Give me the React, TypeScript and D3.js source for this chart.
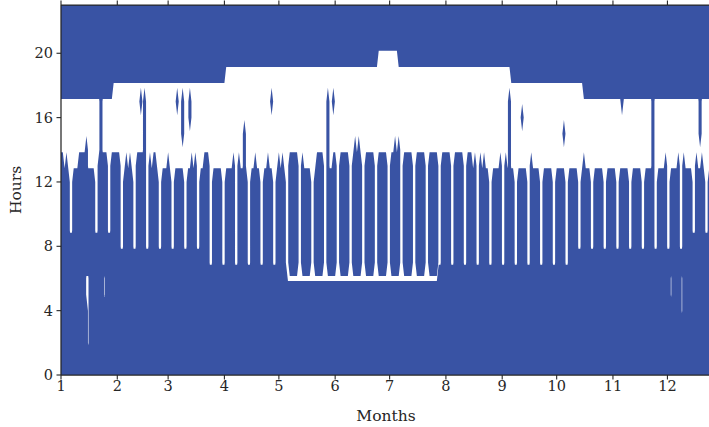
import React from 'react';
import * as d3 from 'd3';

// month ticks (day of year where each month starts)
const monthLabels = ['1', '2', '3', '4', '5', '6', '7', '8', '9', '10', '11', '12'];
const monthStartDays = [0, 31, 59, 90, 120, 151, 181, 212, 243, 273, 304, 334];
const hourTicks = [0, 4, 8, 12, 16, 20];

// last morning hour that is "on", one row per week (Mon..Fri, Sat, Sun)
const weeklyMorningEnd: number[][] = [
  [13, 13, 12, 13, 12, 8, 8],
  [12, 12, 12, 13, 13, 13, 13],
  [14, 12, 12, 12, 12, 8, 8],
  [13, 13, 13, 13, 13, 8, 8],
  [13, 13, 13, 13, 13, 7, 7],
  [12, 13, 12, 13, 12, 7, 7],
  [13, 13, 13, 13, 13, 7, 7],
  [13, 12, 13, 13, 12, 7, 7],
  [12, 12, 12, 13, 12, 7, 7],
  [12, 12, 12, 12, 12, 7, 7],
  [12, 12, 13, 12, 13, 7, 7],
  [12, 12, 13, 13, 13, 6, 6],
  [12, 12, 12, 12, 12, 6, 6],
  [12, 12, 12, 12, 13, 6, 6],
  [13, 12, 12, 13, 12, 6, 6],
  [12, 12, 13, 12, 12, 6, 6],
  [12, 12, 13, 12, 12, 6, 6],
  [12, 13, 12, 13, 12, 6, 5],
  [13, 13, 13, 13, 13, 5, 5],
  [13, 12, 12, 12, 12, 5, 5],
  [12, 13, 13, 13, 13, 5, 5],
  [13, 12, 12, 13, 13, 5, 5],
  [13, 13, 13, 13, 13, 5, 5],
  [13, 14, 13, 14, 13, 5, 5],
  [13, 13, 13, 13, 13, 5, 5],
  [13, 13, 13, 13, 13, 5, 5],
  [13, 13, 14, 13, 14, 5, 5],
  [13, 13, 13, 13, 13, 5, 5],
  [13, 13, 13, 13, 13, 5, 5],
  [13, 13, 13, 13, 13, 6, 6],
  [13, 13, 13, 13, 13, 6, 6],
  [13, 13, 13, 13, 13, 6, 6],
  [13, 13, 13, 12, 13, 6, 6],
  [13, 12, 13, 12, 12, 6, 6],
  [12, 12, 12, 12, 13, 6, 6],
  [13, 12, 13, 12, 12, 6, 6],
  [12, 12, 12, 12, 12, 6, 6],
  [13, 12, 12, 12, 12, 6, 6],
  [12, 12, 12, 12, 12, 6, 6],
  [12, 12, 12, 12, 12, 6, 6],
  [12, 12, 12, 12, 12, 7, 7],
  [12, 13, 12, 12, 12, 7, 7],
  [12, 12, 12, 12, 12, 7, 7],
  [12, 12, 12, 12, 12, 7, 7],
  [12, 12, 12, 12, 12, 7, 7],
  [12, 12, 12, 12, 12, 7, 7],
  [12, 12, 12, 12, 12, 7, 7],
  [12, 12, 12, 12, 13, 7, 7],
  [12, 12, 12, 12, 13, 7, 7],
  [13, 12, 12, 12, 12, 8, 8],
  [13, 12, 12, 13, 12, 8, 8],
  [12, 12, 12, 12, 12, 8, 8],
  [12],
];

// first "on" evening hour, piecewise by day
const eveningFromDay = [0, 29, 91, 175, 186, 248, 288];
const eveningHour = [18, 19, 20, 21, 20, 19, 18];

// summer: hour 6 off every day
const summerDays = [125, 207];
const summerOffHour = 6;

// [day, fromHour, toHour]
const extraOn: number[][] = [
  [22, 14, 17], [44, 17, 17], [46, 14, 17], [64, 17, 17], [67, 15, 17], [71, 16, 17],
  [101, 14, 15], [116, 17, 17], [147, 14, 17], [150, 17, 17], [247, 14, 17],
  [254, 16, 16], [277, 15, 15], [309, 17, 17], [326, 13, 17], [352, 15, 17],
];
const extraOff: number[][] = [
  [14, 5, 6], [15, 2, 6], [24, 5, 6], [336, 5, 6], [342, 4, 6],
];

const W = 709;
const H = 427;
const nDays = 365;
const nHours = 24;
const level = 0.15;
const blue = '#3953a4';
const ink = '#262626';

const x = d3.scaleLinear().domain([0, 358]).range([61, 711]);
const y = d3.scaleLinear().domain([0, 23]).range([375, 5]);

function buildGrid() {
  const morning = weeklyMorningEnd.flat();
  const values = new Array(nDays * nHours).fill(0);
  for (let d = 0; d < nDays; d++) {
    const seg = d3.bisectRight(eveningFromDay, d) - 1;
    const es = eveningHour[seg];
    for (let h = 0; h < nHours; h++) {
      let v = h <= morning[d] || h >= es ? 1 : 0;
      if (d >= summerDays[0] && d <= summerDays[1] && h === summerOffHour) v = 0;
      values[h * nDays + d] = v;
    }
  }
  extraOn.forEach(([d, a, b]) => { for (let h = a; h <= b; h++) values[h * nDays + d] = 1; });
  extraOff.forEach(([d, a, b]) => { for (let h = a; h <= b; h++) values[h * nDays + d] = 0; });
  return values;
}

export default function App() {
  const values = buildGrid();
  const contours = d3.contours().size([nDays, nHours]).thresholds([level])(values);
  const proj = d3.geoTransform({
    point(px: number, py: number) {
      (this as any).stream.point(x(px - 0.5), y(py - 0.5));
    },
  });
  const path = d3.geoPath(proj);
  const x0 = x(0), x1 = x(358), y0 = y(0), y1 = y(23);
  const font = 'DejaVu Serif';

  return (
    <div style={{ position: 'absolute', left: 0, top: 0 }}>
      <svg width={W} height={H} style={{ display: 'block', background: '#fff' }}>
        <defs>
          <clipPath id="plot">
            <rect x={x0} y={y1} width={x1 - x0} height={y0 - y1} />
          </clipPath>
        </defs>
        <g clipPath="url(#plot)">
          {contours.map((c, i) => (
            <path key={i} d={path(c as any) || ''} fill={blue} stroke="none" />
          ))}
        </g>
        {/* spines */}
        <line x1={x0} x2={x0} y1={y1} y2={y0} stroke={ink} strokeWidth={1.25} />
        <line x1={x0} x2={x1} y1={y0} y2={y0} stroke={ink} strokeWidth={1.25} />
        <line x1={x0} x2={x1} y1={y1} y2={y1} stroke={ink} strokeWidth={1.25} />
        {monthStartDays.map((d, i) => (
          <g key={i}>
            <line x1={x(d)} x2={x(d)} y1={y0} y2={y0 + 4.5} stroke={ink} strokeWidth={1.1} />
            <line x1={x(d)} x2={x(d)} y1={y1} y2={y1 - 4.5} stroke={ink} strokeWidth={1.1} />
            <text x={x(d)} y={391} textAnchor="middle" fontFamily={font} fontSize={14.5} fill={ink}>
              {monthLabels[i]}
            </text>
          </g>
        ))}
        {hourTicks.map((h) => (
          <g key={h}>
            <line x1={x0 - 4.5} x2={x0} y1={y(h)} y2={y(h)} stroke={ink} strokeWidth={1.1} />
            <text x={53} y={y(h) + 5} textAnchor="end" fontFamily={font} fontSize={14.5} fill={ink}>
              {h}
            </text>
          </g>
        ))}
        <text x={(x0 + x1) / 2} y={421} textAnchor="middle" fontFamily={font} fontSize={15.5} fill={ink}>
          Months
        </text>
        <text
          transform={`translate(21, ${(y0 + y1) / 2}) rotate(-90)`}
          textAnchor="middle"
          fontFamily={font}
          fontSize={15.5}
          fill={ink}
        >
          Hours
        </text>
      </svg>
    </div>
  );
}
